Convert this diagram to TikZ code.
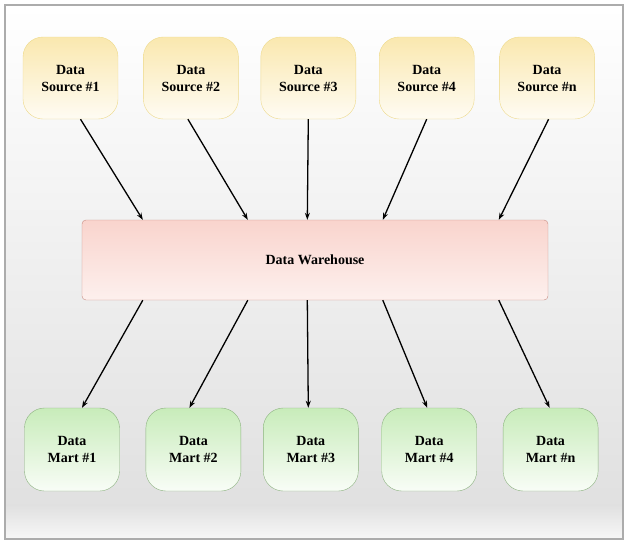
\documentclass[tikz,border=0pt]{standalone}
\usepackage{fontspec}
\setmainfont{Liberation Serif}
\usepackage{tikz}
\usetikzlibrary{arrows.meta, positioning, calc}
\definecolor{srcfill}{RGB}{250,232,175}
\definecolor{srcline}{RGB}{238,218,140}
\definecolor{whfill}{RGB}{249,212,205}
\definecolor{whline}{RGB}{200,140,130}
\definecolor{martfill}{RGB}{200,236,186}
\definecolor{martline}{RGB}{140,178,128}

\begin{document}
\begin{tikzpicture}[
    x=1pt, y=1pt,
    node distance=23pt,
    source/.style={rectangle, rounded corners=20pt, minimum width=95pt, minimum height=82pt, align=center, draw=srcline, top color=srcfill, bottom color=srcfill!15, font=\fontsize{14}{17}\selectfont\bfseries},
    mart/.style={rectangle, rounded corners=20pt, minimum width=95pt, minimum height=83pt, align=center, draw=martline, top color=martfill, bottom color=martfill!12, font=\fontsize{14}{17}\selectfont\bfseries},
    warehouse/.style={rectangle, rounded corners=4pt, minimum width=466pt, minimum height=80pt, align=center, draw=whline, top color=whfill, bottom color=whfill!35, font=\fontsize{14}{17}\selectfont\bfseries},
    arrow/.style={-{Stealth[length=7pt,width=5pt]}, line width=1.3pt, black}
]
\useasboundingbox (0,0) rectangle (628,-544);

% background and frame
\fill[top color=white, bottom color=gray!24] (5,-5) rectangle (623,-505);
\fill[top color=gray!24, bottom color=gray!6] (5,-505) rectangle (623,-539);
\draw[gray!65, line width=1.2pt] (5,-5) rectangle (623,-539);

% sources
\node[source] at (70.5,-78) (src1) {Data\\Source \#1};
\node[source, right=25pt of src1] (src2) {Data\\Source \#2};
\node[source, right=22pt of src2] (src3) {Data\\Source \#3};
\node[source, right=23pt of src3] (src4) {Data\\Source \#4};
\node[source, right=25pt of src4] (srcn) {Data\\Source \#n};

% warehouse
\node[warehouse] at (315,-260) (wh) {Data Warehouse};

% marts
\node[mart] at (72,-449.5) (mart1) {Data\\Mart \#1};
\node[mart, right=26pt of mart1] (mart2) {Data\\Mart \#2};
\node[mart, right=22pt of mart2] (mart3) {Data\\Mart \#3};
\node[mart, right=23pt of mart3] (mart4) {Data\\Mart \#4};
\node[mart, right=26pt of mart4] (martn) {Data\\Mart \#n};

% connectors
\foreach \i/\s/\x/\m in {1/10/61/10, 2/-3/166/-4, 3/0/225.5/-2.5, 4/0/301/-2, n/1.5/417/-1} {
    \draw[arrow] ([xshift=\s pt]src\i.south) -- ([xshift=\x pt]wh.north west);
    \draw[arrow] ([xshift=\x pt]wh.south west) -- ([xshift=\m pt]mart\i.north);
}

\end{tikzpicture}
\end{document}
